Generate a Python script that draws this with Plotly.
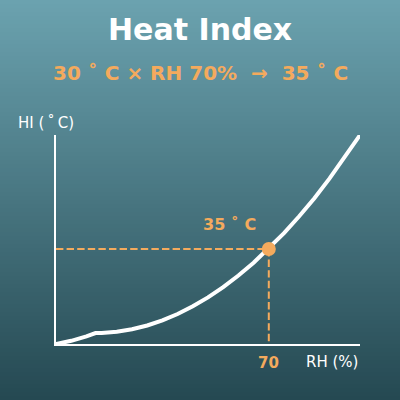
import plotly.graph_objects as go

# heat index at 30 C
rh = [0, 5, 10, 13, 15, 20, 25, 30, 35, 40, 45, 50, 55, 60, 65, 70, 75, 80, 85, 90, 95, 100]
hi = [27.24, 27.50, 27.86, 28.13, 28.14, 28.24, 28.44, 28.75, 29.17, 29.69, 30.32, 31.05,
      31.89, 32.83, 33.88, 35.04, 36.30, 37.67, 39.14, 40.77, 42.51, 44.3]

mark_rh = 70
mark_hi = 35.0
x_range = [0, 100]
y_range = [27.24, 44.31]

ORANGE = "#f4aa5d"
FONT = "DejaVu Sans"

W, H = 400, 400
M = dict(l=56, r=40, t=135, b=56)

fig = go.Figure()

# dashed guides
dash = "7.4px,3.2px"
fig.add_trace(go.Scatter(x=[x_range[0], mark_rh], y=[mark_hi, mark_hi], mode="lines",
                         line=dict(color=ORANGE, width=2, dash=dash), hoverinfo="skip"))
fig.add_trace(go.Scatter(x=[mark_rh, mark_rh], y=[mark_hi, y_range[0]], mode="lines",
                         line=dict(color=ORANGE, width=2, dash=dash), hoverinfo="skip"))
# curve
fig.add_trace(go.Scatter(x=rh, y=hi, mode="lines", line=dict(color="white", width=4),
                         cliponaxis=False))
# marker
fig.add_trace(go.Scatter(x=[mark_rh], y=[mark_hi], mode="markers",
                         marker=dict(color=ORANGE, size=14), cliponaxis=False))

# background gradient as thin strips
top = (107, 162, 175)
bot = (37, 73, 82)
pw = W - M["l"] - M["r"]
ph = H - M["t"] - M["b"]
n = 100
shapes = []
for i in range(n):
    f = i / (n - 1)
    c = tuple(round(top[k] + (bot[k] - top[k]) * f) for k in range(3))
    p0 = H * i / n
    p1 = H * (i + 1) / n + 1
    shapes.append(dict(type="rect", xref="paper", yref="paper", layer="below",
                       x0=-M["l"] / pw, x1=(W - M["l"]) / pw,
                       y0=(H - M["b"] - p1) / ph, y1=(H - M["b"] - p0) / ph,
                       line=dict(width=0), fillcolor="rgb(%d,%d,%d)" % c))

nb = "\u00a0"
thin = "\u2009"
cx = (W / 2 - M["l"]) / pw  # figure centre in plot-paper units
annotations = [
    dict(text="<b>Heat Index</b>", x=cx, y=(H - M["b"] - 29) / ph, xref="paper", yref="paper",
         showarrow=False, font=dict(size=30, color="white", family=FONT), xanchor="center", yanchor="middle"),
    dict(text="<b>30 ˚ C × RH 70%" + nb * 2 + "→" + nb * 2 + "35 ˚ C</b>", x=cx,
         y=(H - M["b"] - 73) / ph, xref="paper", yref="paper", showarrow=False,
         font=dict(size=20, color=ORANGE, family=FONT), xanchor="center", yanchor="middle"),
    dict(text="<b>35 ˚ C</b>", x=57, y=mark_hi, yshift=24, xref="x", yref="y", showarrow=False,
         font=dict(size=16, color=ORANGE, family=FONT), xanchor="center", yanchor="middle"),
    dict(text="<b>70</b>", x=mark_rh, y=0, yshift=-19, xref="x", yref="paper", showarrow=False,
         font=dict(size=15, color=ORANGE, family=FONT), xanchor="center", yanchor="middle"),
    dict(text="RH (%)", x=1, y=0, yshift=-18, xref="paper", yref="paper", showarrow=False,
         font=dict(size=15, color="white", family=FONT), xanchor="right", yanchor="middle"),
    dict(text="HI (" + thin + "˚" + thin + "C)", x=-40 / pw, y=1, yshift=12, xref="paper", yref="paper",
         showarrow=False, font=dict(size=15, color="white", family=FONT),
         xanchor="left", yanchor="middle"),
]

fig.update_layout(
    width=W, height=H, autosize=False, margin=M, showlegend=False,
    paper_bgcolor="#46707c", plot_bgcolor="rgba(0,0,0,0)",
    shapes=shapes, annotations=annotations,
    xaxis=dict(range=x_range, showgrid=False, zeroline=False, showticklabels=False, ticks="",
               showline=True, linecolor="white", linewidth=2),
    yaxis=dict(range=y_range, showgrid=False, zeroline=False, showticklabels=False, ticks="",
               showline=True, linecolor="white", linewidth=2),
)

fig.write_html("out.html", config={"displayModeBar": False},
               post_script="document.body.style.margin='0';")
